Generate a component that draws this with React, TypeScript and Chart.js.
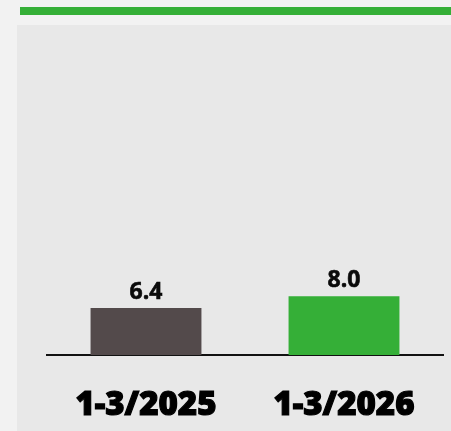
import React, { useEffect, useRef } from "react";
import { Chart, registerables } from "chart.js";

Chart.register(...registerables);

const categories = ["1-3/2025", "1-3/2026"];
const values = [6.4, 8.0];
const barColors = ["#534a4b", "#35af37"];
const valueLabels = ["6.4", "8.0"];

const valueLabelPlugin = {
  id: "valueLabels",
  afterDatasetsDraw(chart: any) {
    const ctx = chart.ctx;
    const meta = chart.getDatasetMeta(0);
    ctx.save();
    ctx.font = "700 23px 'Open Sans'";
    ctx.fillStyle = "#0a0a0a";
    ctx.strokeStyle = "#0a0a0a";
    ctx.lineWidth = 0.6;
    ctx.textAlign = "center";
    ctx.textBaseline = "alphabetic";
    meta.data.forEach((bar: any, i: number) => {
      ctx.fillText(valueLabels[i], bar.x, bar.y - 9);
      ctx.strokeText(valueLabels[i], bar.x, bar.y - 9);
    });
    ctx.restore();
  },
};

export default function App() {
  const ref = useRef<HTMLCanvasElement | null>(null);
  useEffect(() => {
    if (!ref.current) return;
    const chart = new Chart(ref.current, {
      type: "bar",
      data: {
        labels: categories,
        datasets: [
          {
            data: values,
            backgroundColor: barColors,
            borderWidth: 0,
            categoryPercentage: 1,
            barPercentage: 0.56,
          },
        ],
      },
      options: {
        animation: false,
        responsive: false,
        maintainAspectRatio: false,
        layout: { padding: { left: 30, right: 8, top: 36, bottom: 0 } },
        plugins: { legend: { display: false }, tooltip: { enabled: false } },
        scales: {
          y: { display: false, min: 0, max: 40 },
          x: {
            grid: { display: false },
            border: { display: true, color: "#111111", width: 2 },
            ticks: {
              color: "#000000",
              font: { family: "'Open Sans'", size: 33, weight: "800" as any },
              padding: 23,
              textStrokeColor: "#000000",
              textStrokeWidth: 1.2,
            } as any,
            afterFit: (scale: any) => {
              scale.height = 76;
            },
          },
        },
      },
      plugins: [valueLabelPlugin],
    });
    return () => chart.destroy();
  }, []);

  return (
    <div style={{ position: "fixed", left: 0, top: 0, width: 451, height: 431, background: "#f2f2f2" }}>
      <div style={{ position: "absolute", left: 20, top: 7, width: 431, height: 8, background: "#35af37" }} />
      <div style={{ position: "absolute", left: 17, top: 25, width: 434, height: 406, background: "#e8e8e8" }}>
        <canvas ref={ref} width={434} height={406} style={{ display: "block", width: 434, height: 406 }} />
      </div>
    </div>
  );
}
